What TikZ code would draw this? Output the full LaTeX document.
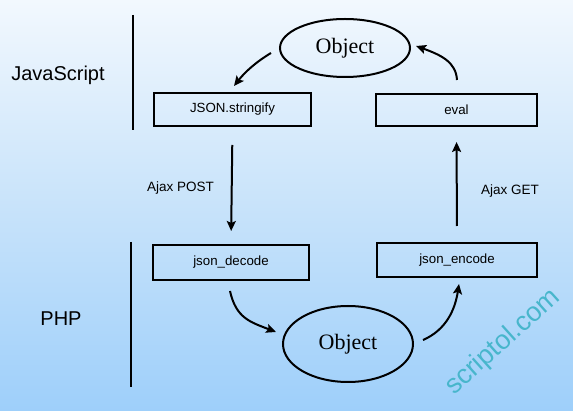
\documentclass[tikz,border=0pt]{standalone}
\usepackage{fontspec}
\setmainfont{Liberation Sans}
\newfontfamily\objfont{Liberation Serif}
\usetikzlibrary{arrows.meta,shapes.geometric}
\definecolor{bgtop}{RGB}{242,248,254}
\definecolor{bgmid}{RGB}{200,227,250}
\definecolor{bgbot}{RGB}{158,207,250}
\definecolor{wmark}{RGB}{72,182,204}
\begin{document}
\begin{tikzpicture}[x=1pt,y=-1pt,
  box/.style={draw=black,line width=2pt,inner sep=0pt,font=\fontsize{13.3}{15}\selectfont},
  obj/.style={draw=black,line width=2pt,ellipse,inner sep=0pt,font=\objfont\fontsize{22}{24}\selectfont},
  lang/.style={font=\fontsize{20}{24}\selectfont},
  lbl/.style={font=\fontsize{13.5}{16}\selectfont},
  sep/.style={line width=2pt},
  arr/.style={line width=2pt,-{Stealth[length=10pt,width=9pt,inset=2pt]}}]
\useasboundingbox (0,0) rectangle (573,411);
\shade[top color=bgtop,bottom color=bgbot,middle color=bgmid] (0,0) rectangle (573,411);
% separators
\coordinate (s1a) at (133,15); \coordinate (s1b) at (133,130);
\coordinate (s2a) at (131,242); \coordinate (s2b) at (131,387);
\draw[sep] (s1a) -- (s1b);
\draw[sep] (s2a) -- (s2b);
% language labels
\node[lang] (js) at (58,75) {JavaScript};
\node[lang] (php) at (61,319) {PHP};
% nodes
\node[obj,minimum width=130pt,minimum height=58pt] (o1) at (345,48) {Object};
\node[obj,minimum width=130pt,minimum height=76pt] (o2) at (348,344) {Object};
\node[box,minimum width=157pt,minimum height=33pt] (json) at (232.5,109.5) {JSON.stringify};
\node[box,minimum width=161pt,minimum height=32pt] (eval) at (456.5,110) {eval};
\node[box,minimum width=156pt,minimum height=35pt] (dec) at (231,262.5) {json\_decode};
\node[box,minimum width=160pt,minimum height=34pt] (enc) at (457,260) {json\_encode};
% straight arrows
\draw[arr,shorten <=18pt,shorten >=13pt] (json.south) -- (dec.north);
\draw[arr,shorten <=16pt,shorten >=15pt] (enc.north) -- (eval.south);
\node[lbl] (post) at (180.5,188) {Ajax POST};
\node[lbl] (get) at (510,191) {Ajax GET};
% curved arrows
\coordinate (c1a) at (271,53); \coordinate (c1b) at (234,86);
\coordinate (c2a) at (457,80); \coordinate (c2b) at (416,46);
\coordinate (c3a) at (230,291); \coordinate (c3b) at (276,332);
\coordinate (c4a) at (423,340); \coordinate (c4b) at (459,284);
\draw[arr] (c1a) .. controls (256,62) and (245,72) .. (c1b);
\draw[arr] (c2a) .. controls (456,62) and (441,55) .. (c2b);
\draw[arr] (c3a) .. controls (236,318) and (250,322) .. (c3b);
\draw[arr] (c4a) .. controls (446,330) and (455,310) .. (c4b);
% watermark
\node[text=wmark,rotate=42,font=\fontsize{27}{30}\selectfont] (wm) at (503,342) {scriptol.com};
\end{tikzpicture}
\end{document}
